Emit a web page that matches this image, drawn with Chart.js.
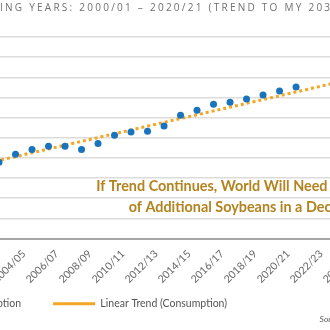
<!DOCTYPE html>
<html>
<head>
<meta charset="utf-8">
<script src="https://cdn.jsdelivr.net/npm/chart.js@4.4.1/dist/chart.umd.min.js"></script>
<style>
  html, body { margin: 0; padding: 0; overflow: hidden; background: #fff; }
  body { width: 330px; height: 330px; position: relative; }
  #wrap { position: absolute; left: -126px; top: 0; width: 605px; height: 330px; }
</style>
</head>
<body>
<div id="wrap"><canvas id="soyChart"></canvas></div>
<script>
// marketing years on the x axis (trend runs to 2030/31)
const years = ['2000/01', '2001/02', '2002/03', '2003/04', '2004/05', '2005/06', '2006/07', '2007/08',
  '2008/09', '2009/10', '2010/11', '2011/12', '2012/13', '2013/14', '2014/15', '2015/16', '2016/17',
  '2017/18', '2018/19', '2019/20', '2020/21', '2021/22', '2022/23', '2023/24', '2024/25', '2025/26',
  '2026/27', '2027/28', '2028/29', '2029/30', '2030/31'];

// world soybean consumption, million metric tons
const consumption = [172, 181, 189, 209, 221, 229, 229, 221, 236, 256, 264, 266, 279, 306, 318, 333,
  338, 346, 356, 366, 376];

// linear trend: only the two ends, the line is drawn between them
const trend = [175, null, null, null, null, null, null, null, null, null, null, null, null, null, null, null,
  null, null, null, null, null, null, null, null, null, null, null, null, null, null, 458];

const yTicks = [0, 50, 100, 150, 200, 250, 300, 350, 400, 450, 500];

const titleText = 'SOYBEAN CONSUMPTION, MARKETING YEARS: 2000/01 \u2013 2020/21 (TREND TO MY 2030/31)';
const noteLines = ['If Trend Continues, World Will Need 94 MMT', 'of Additional Soybeans in a Decade'];
const sourceText = 'Source: USDA Foreign Agricultural Service';

const blue = '#1a73bd';
const orange = '#f3a624';
const gold = '#b3831f';

// canvas text with extra tracking, one glyph at a time
function spacedWidth(ctx, text, spacing) {
    let w = 0;
    for (const ch of text) w += ctx.measureText(ch).width + spacing;
    return w;
}
function drawSpaced(ctx, text, x, y, spacing) {
    for (const ch of text) {
        ctx.fillText(ch, x, y);
        x += ctx.measureText(ch).width + spacing;
    }
}

// title, note and source drawn on the canvas
const extraText = {
    id: 'extraText',
    afterLayout(chart) {
        // let the rotated year labels run down into the empty top of the legend box
        chart.scales.x.bottom = chart.scales.x.top + 50;
    },
    afterDraw(chart) {
        const ctx = chart.ctx;
        const x = chart.scales.x;
        const y = chart.scales.y;
        ctx.save();

        ctx.font = '500 10px "Open Sans"';
        ctx.fillStyle = '#707070';
        ctx.textBaseline = 'middle';
        ctx.textAlign = 'left';
        const prefix = spacedWidth(ctx, 'SOYBEAN CONSUMPTION, MARKET', 2.25);
        drawSpaced(ctx, titleText, 126 - prefix, 8, 2.25);

        ctx.font = 'bold 14.4px Lato';
        ctx.fillStyle = gold;
        ctx.textAlign = 'center';
        ctx.fillText(noteLines[0], x.getPixelForValue(16.7), y.getPixelForValue(130));
        ctx.fillText(noteLines[1], x.getPixelForValue(16.7), y.getPixelForValue(78));

        ctx.font = 'italic 8.5px Lato';
        ctx.fillStyle = '#555';
        ctx.textAlign = 'right';
        ctx.fillText(sourceText, chart.width - 12, 319);
        ctx.restore();
    }
};

const ctx = document.getElementById('soyChart').getContext('2d');
const soyChart = new Chart(ctx, {
    type: 'line',
    data: {
        labels: years,
        datasets: [{
            label: 'Consumption',
            data: consumption,
            showLine: false,
            pointStyle: 'circle',
            pointRadius: 3.5,
            pointBackgroundColor: blue,
            pointBorderColor: blue,
            backgroundColor: blue,
            borderColor: blue,
            borderWidth: 0
        }, {
            label: 'Linear Trend (Consumption)',
            data: trend,
            spanGaps: true,
            pointRadius: 0,
            pointStyle: 'line',
            borderColor: orange,
            backgroundColor: orange,
            borderWidth: 3,
            borderDash: [3, 3],
            tension: 0
        }]
    },
    options: {
        responsive: true,
        maintainAspectRatio: false,
        animation: false,
        layout: {
            padding: { left: 6, right: 12, top: 37, bottom: 11 }
        },
        scales: {
            x: {
                grid: { display: false, drawTicks: false },
                border: { color: '#a6a6a6', width: 2 },
                afterFit: function(scale) { scale.height = 28; },
                ticks: {
                    autoSkip: false,
                    minRotation: 45,
                    maxRotation: 45,
                    padding: 9,
                    labelOffset: -8,
                    color: '#666',
                    font: { family: 'Lato', size: 10.5 },
                    callback: function(value, index) {
                        return index % 2 === 0 ? years[index] : '';
                    }
                }
            },
            y: {
                min: 0,
                max: 500,
                afterFit: function(scale) { scale.width = 86; },
                afterBuildTicks: function(scale) {
                    scale.ticks = yTicks.map(function(v) { return { value: v }; });
                },
                grid: { color: '#dcdcdc', lineWidth: 1.5, drawTicks: false },
                border: { display: false },
                ticks: { color: '#666', font: { family: 'Lato', size: 10 }, padding: 8 }
            }
        },
        plugins: {
            legend: {
                position: 'bottom',
                align: 'start',
                labels: {
                    usePointStyle: true,
                    pointStyleWidth: 42,
                    padding: 32,
                    color: '#555',
                    font: { family: 'Lato', size: 10.5 }
                }
            },
            tooltip: { enabled: false }
        }
    },
    plugins: [extraText]
});
</script>
</body>
</html>
